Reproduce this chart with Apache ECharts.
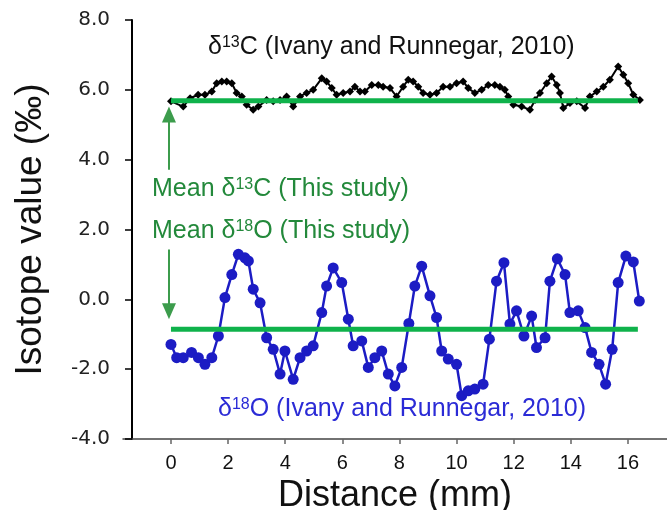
<!DOCTYPE html>
<html>
<head>
<meta charset="utf-8">
<script src="https://cdn.jsdelivr.net/npm/echarts@6/dist/echarts.min.js"></script>
<style>
  html, body { margin: 0; padding: 0; background: #ffffff; }
  #chart { width: 667px; height: 510px; }
</style>
</head>
<body>
<div id="chart"></div>
<script>
// δ13C profile (Ivany and Runnegar, 2010): distance (mm) and value (‰)
const carbonDistance = [0, 0.43, 0.67, 0.95, 1.19, 1.43, 1.60, 1.78, 1.95, 2.13,
  2.30, 2.48, 2.65, 2.88, 3.06, 3.35, 3.58, 3.82, 4.05, 4.28,
  4.52, 4.75, 4.98, 5.28, 5.45, 5.63, 5.80, 6.03, 6.27, 6.44,
  6.62, 6.79, 7.03, 7.26, 7.43, 7.67, 7.90, 8.13, 8.31, 8.48,
  8.66, 8.83, 9.07, 9.30, 9.53, 9.77, 10.00, 10.23, 10.41, 10.64,
  10.88, 11.11, 11.34, 11.52, 11.69, 11.81, 11.99, 12.28, 12.57, 12.75,
  12.92, 13.16, 13.33, 13.51, 13.62, 13.74, 13.97, 14.21, 14.50, 14.67,
  14.91, 15.14, 15.37, 15.66, 15.84, 16.01, 16.19, 16.42];
const carbonValue = [5.67, 5.52, 5.76, 5.86, 5.86, 5.95, 6.19, 6.24, 6.24, 6.19,
  5.91, 5.81, 5.57, 5.43, 5.52, 5.71, 5.67, 5.71, 5.81, 5.52,
  5.81, 5.91, 6.00, 6.33, 6.24, 6.05, 5.86, 5.91, 5.95, 6.09,
  5.95, 5.95, 6.14, 6.14, 6.09, 6.05, 5.81, 6.09, 6.29, 6.24,
  6.09, 5.91, 5.86, 5.91, 6.09, 6.09, 6.19, 6.24, 6.05, 5.91,
  6.00, 6.14, 6.14, 6.09, 6.00, 5.81, 5.57, 5.52, 5.43, 5.71,
  5.91, 6.19, 6.38, 6.14, 5.91, 5.48, 5.62, 5.67, 5.48, 5.81,
  5.95, 6.09, 6.29, 6.67, 6.43, 6.19, 5.86, 5.71];

// δ18O profile (Ivany and Runnegar, 2010)
const oxygenDistance = [0, 0.20, 0.43, 0.72, 0.96, 1.19, 1.43, 1.66, 1.89, 2.13,
  2.36, 2.59, 2.71, 2.88, 3.12, 3.35, 3.58, 3.82, 3.99, 4.28,
  4.52, 4.75, 4.98, 5.28, 5.45, 5.68, 5.98, 6.21, 6.38, 6.68,
  6.91, 7.14, 7.38, 7.61, 7.84, 8.08, 8.33, 8.54, 8.78, 9.07,
  9.30, 9.48, 9.71, 10.00, 10.18, 10.41, 10.64, 10.93, 11.15, 11.40,
  11.66, 11.87, 12.10, 12.36, 12.63, 12.80, 13.10, 13.27, 13.53, 13.80,
  13.97, 14.26, 14.50, 14.73, 14.99, 15.22, 15.45, 15.66, 15.93, 16.19, 16.40];
const oxygenValue = [-1.29, -1.67, -1.67, -1.52, -1.67, -1.86, -1.67, -1.05, 0.05, 0.71,
  1.29, 1.19, 1.10, 0.29, -0.10, -1.10, -1.43, -2.14, -1.48, -2.29,
  -1.67, -1.48, -1.33, -0.38, 0.38, 0.90, 0.48, -0.57, -1.33, -1.19,
  -1.95, -1.67, -1.48, -2.14, -2.48, -1.95, -0.69, 0.38, 0.95, 0.10,
  -0.52, -1.48, -1.71, -1.86, -2.76, -2.62, -2.57, -2.43, -1.14, 0.52,
  1.05, -0.71, -0.33, -1.05, -0.48, -1.38, -1.10, 0.52, 1.16, 0.71,
  -0.38, -0.33, -0.81, -1.52, -1.86, -2.43, -1.43, 0.48, 1.24, 1.07, -0.05];

// Means of this study and the distance range they cover
const meanCarbon = 5.69;
const meanOxygen = -0.86;
const meanRange = [0, 16.35];

// Axis ticks
const xTicks = [0, 2, 4, 6, 8, 10, 12, 14, 16];
const yTicks = [-4, -2, 0, 2, 4, 6, 8];

// Annotation arrows: [distance, from value, to value]
const carbonArrow = [-0.07, 3.71, 5.29];
const oxygenArrow = [-0.07, 1.43, -0.34];

const zip = (xs, ys) => xs.map((x, i) => [x, ys[i]]);
const font = 'Liberation Sans, Arial, sans-serif';
const tickFont = 'DejaVu Sans, Verdana, sans-serif';
const meanGreen = '#0fb24b';
const textGreen = '#23893b';
const arrowGreen = '#3c9c4c';
const blue = '#1c1cc4';

const chart = echarts.init(document.getElementById('chart'), null, { renderer: 'canvas' });

const supRich = (size, sup) => ({
  b: { fontSize: size, fontFamily: font },
  s: { fontSize: sup, fontFamily: font, verticalAlign: 'top', lineHeight: size }
});

chart.setOption({
  animation: false,
  backgroundColor: '#ffffff',
  grid: { left: 123, right: 0, top: 20, bottom: 71, containLabel: false, outerBoundsMode: 'none' },
  xAxis: {
    type: 'value',
    min: -1.68,
    max: 17.37,
    splitLine: { show: false },
    axisLine: { onZero: false, lineStyle: { color: '#444', width: 1.5 } },
    axisTick: { show: true, customValues: xTicks, length: 5, lineStyle: { color: '#666', width: 1.5 } },
    axisLabel: { customValues: xTicks, fontSize: 20, color: '#111', margin: 14, fontFamily: font },
    name: 'Distance (mm)',
    nameLocation: 'middle',
    nameGap: 31,
    nameTextStyle: { fontSize: 36, color: '#111', fontFamily: font }
  },
  yAxis: {
    type: 'value',
    min: -4,
    max: 8,
    interval: 2,
    offset: -9,
    splitLine: { show: false },
    axisLine: { show: true, onZero: false, lineStyle: { color: '#000', width: 2 } },
    axisTick: { show: true, length: 7, lineStyle: { color: '#000', width: 1.5 } },
    axisLabel: { formatter: v => v.toFixed(1), fontSize: 20, color: '#222', margin: 22, fontFamily: tickFont },
    name: 'Isotope value (‰)',
    nameLocation: 'middle',
    nameGap: 83,
    nameTextStyle: { fontSize: 37, color: '#111', fontFamily: font }
  },
  series: [
    {
      name: 'δ13C',
      type: 'line',
      data: zip(carbonDistance, carbonValue),
      symbol: 'diamond',
      symbolSize: 8,
      itemStyle: { color: '#000' },
      lineStyle: { color: '#000', width: 2 },
      z: 2
    },
    {
      name: 'δ18O',
      type: 'line',
      data: zip(oxygenDistance, oxygenValue),
      symbol: 'circle',
      symbolSize: 11,
      itemStyle: { color: blue },
      lineStyle: { color: blue, width: 2.5 },
      z: 2
    },
    {
      name: 'Mean δ13C',
      type: 'line',
      data: meanRange.map(x => [x, meanCarbon]),
      symbol: 'none',
      lineStyle: { color: meanGreen, width: 5 },
      z: 3,
      markLine: {
        silent: true,
        symbol: ['none', 'triangle'],
        symbolSize: [14, 16],
        label: { show: false },
        lineStyle: { color: arrowGreen, width: 2, type: 'solid' },
        data: [
          [{ coord: [carbonArrow[0], carbonArrow[1]] }, { coord: [carbonArrow[0], carbonArrow[2]] }],
          [{ coord: [oxygenArrow[0], oxygenArrow[1]] }, { coord: [oxygenArrow[0], oxygenArrow[2]] }]
        ]
      }
    },
    {
      name: 'Mean δ18O',
      type: 'line',
      data: meanRange.map(x => [x, meanOxygen]),
      symbol: 'none',
      lineStyle: { color: meanGreen, width: 5 },
      z: 3
    }
  ],
  graphic: [
    {
      type: 'text', left: 208, top: 35, z: 10,
      style: { text: '{b|δ}{s|13}{b|C (Ivany and Runnegar, 2010)}', rich: supRich(25, 16), fill: '#111', font: '25px ' + font }
    },
    {
      type: 'text', left: 152, top: 177, z: 10,
      style: { text: '{b|Mean δ}{s|13}{b|C (This study)}', rich: supRich(25, 16), fill: textGreen, font: '25px ' + font }
    },
    {
      type: 'text', left: 152, top: 219, z: 10,
      style: { text: '{b|Mean δ}{s|18}{b|O (This study)}', rich: supRich(25, 16), fill: textGreen, font: '25px ' + font }
    },
    {
      type: 'text', left: 218, top: 397, z: 10,
      style: { text: '{b|δ}{s|18}{b|O (Ivany and Runnegar, 2010)}', rich: supRich(25, 16), fill: '#2b2bd6', font: '25px ' + font }
    }
  ]
});
</script>
</body>
</html>
